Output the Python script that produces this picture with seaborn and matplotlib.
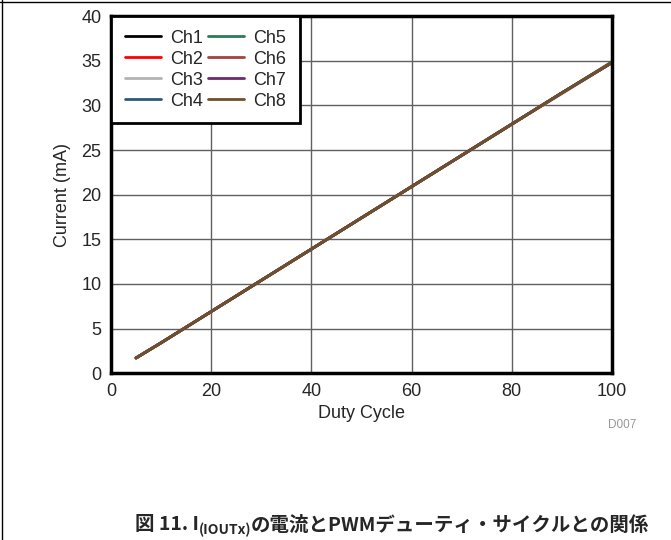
import matplotlib
matplotlib.use("Agg")
import matplotlib.pyplot as plt
import matplotlib.lines as mlines
import seaborn as sns
import pandas as pd

duty = [5, 10, 20, 30, 40, 50, 60, 70, 80, 90, 100]
channels = ["Ch1", "Ch2", "Ch3", "Ch4", "Ch5", "Ch6", "Ch7", "Ch8"]
current = {
    "Ch1": [1.7, 3.4, 6.9, 10.4, 13.9, 17.4, 20.9, 24.4, 27.9, 31.4, 34.8],
    "Ch2": [1.7, 3.4, 6.9, 10.4, 13.9, 17.4, 20.9, 24.4, 27.9, 31.4, 34.8],
    "Ch3": [1.7, 3.4, 6.9, 10.4, 13.9, 17.4, 20.9, 24.4, 27.9, 31.3, 34.8],
    "Ch4": [1.7, 3.4, 6.9, 10.4, 13.9, 17.4, 20.9, 24.4, 27.9, 31.4, 34.8],
    "Ch5": [1.7, 3.4, 6.9, 10.4, 13.9, 17.4, 20.9, 24.4, 27.9, 31.4, 34.9],
    "Ch6": [1.7, 3.4, 6.9, 10.4, 13.9, 17.4, 20.9, 24.4, 27.9, 31.4, 34.8],
    "Ch7": [1.7, 3.4, 6.9, 10.4, 13.9, 17.4, 20.9, 24.4, 27.9, 31.4, 34.8],
    "Ch8": [1.7, 3.4, 6.9, 10.4, 13.9, 17.4, 20.9, 24.4, 27.9, 31.4, 34.8],
}
colors = ["#000000", "#ff0000", "#b3b3b3", "#2b5b78",
          "#2d7a55", "#a5423c", "#6b2a6b", "#6e5128"]

rows = []
for ch in channels:
    for d, c in zip(duty, current[ch]):
        rows.append({"Duty": d, "Current": c, "Channel": ch})
df = pd.DataFrame(rows)

sns.set_style("white")
plt.rcParams["font.family"] = ["Liberation Sans", "DejaVu Sans"]

fig = plt.figure(figsize=(6.71, 5.4), dpi=100)
ax = fig.add_axes([0.1654, 0.309, 0.7466, 0.661])

sns.lineplot(data=df, x="Duty", y="Current", hue="Channel", hue_order=channels,
             palette=colors, linewidth=2, ax=ax)

ax.set_xlim(0, 100)
ax.set_ylim(0, 40)
ax.set_xticks([0, 20, 40, 60, 80, 100])
ax.set_yticks(range(0, 41, 5))
ax.tick_params(labelsize=13, length=0, pad=7)
ax.grid(True, color="#606060", linewidth=1)
ax.set_axisbelow(True)
for s in ax.spines.values():
    s.set_color("black")
    s.set_linewidth(2.5)
ax.set_xlabel("Duty Cycle", fontsize=13, labelpad=4)
ax.set_ylabel("Current (mA)", fontsize=13, labelpad=7)

leg = ax.legend(ncol=2, loc="upper left", fontsize=13, frameon=True, fancybox=False,
                handlelength=2.0, columnspacing=0.3, handletextpad=0.5,
                labelspacing=0.22, borderaxespad=0, borderpad=0.75)
leg.get_frame().set_edgecolor("black")
leg.get_frame().set_linewidth(2)
leg.get_frame().set_alpha(1)

fig.text(622 / 671, 1 - 425 / 540, "D007", color="#999999", fontsize=8.5,
         ha="center", va="center")

# page frame lines
fig.add_artist(mlines.Line2D([0, 1], [1 - 2 / 540, 1 - 2 / 540], color="black", lw=1))
fig.add_artist(mlines.Line2D([2 / 671, 2 / 671], [0, 1], color="black", lw=1))

# caption with subscript
jp = ["Noto Sans CJK JP", "DejaVu Sans"]
cap_y = 1 - 525 / 540
parts = [("図 11. I", 14, 0), ("(IOUTx)", 10, -5), ("の電流とPWMデューティ・サイクルとの関係", 14, 0)]
fig.canvas.draw()
r = fig.canvas.get_renderer()
widths = []
texts = []
for s, fs, dy in parts:
    t = fig.text(0, cap_y + dy / 540, s, fontsize=fs, fontweight="bold",
                 family=jp, ha="left", va="center")
    texts.append(t)
    widths.append(t.get_window_extent(r).width)
total = sum(widths)
x = 392 - total / 2
for t, w in zip(texts, widths):
    t.set_x(x / 671)
    x += w

fig.savefig("out.png", dpi=100)
